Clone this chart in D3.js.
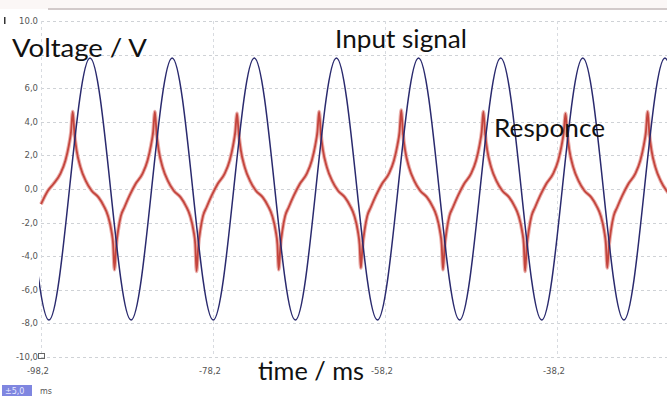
<!DOCTYPE html>
<html>
<head>
<meta charset="utf-8">
<script src="https://cdn.jsdelivr.net/npm/d3@7"></script>
<style>
  body { margin: 0; background: #fff; }
  svg { display: block; }
</style>
</head>
<body>
<div id="chart"></div>
<script>
// y grid / tick values (V)
const yTicks = [10, 8, 6, 4, 2, 0, -2, -4, -6, -8, -10];
const yLabels = {10: '10.0', 6: '6,0', 4: '4,0', 2: '2,0', 0: '0,0', '-2': '-2,0', '-4': '-4,0', '-6': '-6,0', '-8': '-8,0', '-10': '-10,0'};
// x ticks (ms)
const xTicks = [-98.2, -78.2, -58.2, -38.2];
const xLabels = ['-98,2', '-78,2', '-58,2', '-38,2'];

// input signal: extremes and zero crossings
const inputT = [-99.66, -97.28, -94.89, -92.50, -90.11, -87.73, -85.34, -82.95, -80.56, -78.18,
  -75.79, -73.40, -71.01, -68.63, -66.24, -63.85, -61.46, -59.08, -56.69, -54.30,
  -51.91, -49.53, -47.14, -44.75, -42.36, -39.98, -37.59, -35.20, -32.81, -30.43,
  -28.04, -25.65, -23.26];
const inputV = [0, -7.8, 0, 7.8, 0, -7.8, 0, 7.8, 0, -7.8,
  0, 7.8, 0, -7.8, 0, 7.8, 0, -7.8, 0, 7.8,
  0, -7.8, 0, 7.8, 0, -7.8, 0, 7.8, 0, -7.8,
  0, 7.8, 0];

// response trace
const respT = [
  -98.20, -97.40, -96.76, -95.96, -95.36, -94.96, -94.71,
  -94.51, -94.31, -94.06, -93.61, -93.01, -92.31, -91.51, -90.91, -90.41, -90.01, -89.81, -89.66,
  -89.46, -89.21, -88.91, -88.51, -87.91, -87.21, -86.41, -85.81, -85.41, -85.16,
  -84.96, -84.76, -84.51, -84.06, -83.46, -82.76, -81.96, -81.36, -80.86, -80.46, -80.26, -80.11,
  -79.91, -79.66, -79.36, -78.96, -78.36, -77.66, -76.86, -76.26, -75.86, -75.61,
  -75.41, -75.21, -74.96, -74.51, -73.91, -73.21, -72.41, -71.81, -71.31, -70.91, -70.71, -70.56,
  -70.36, -70.11, -69.81, -69.41, -68.81, -68.11, -67.31, -66.71, -66.31, -66.06,
  -65.86, -65.66, -65.41, -64.96, -64.36, -63.66, -62.86, -62.26, -61.76, -61.36, -61.16, -61.01,
  -60.81, -60.56, -60.26, -59.86, -59.26, -58.56, -57.76, -57.16, -56.76, -56.51,
  -56.31, -56.11, -55.86, -55.41, -54.81, -54.11, -53.31, -52.71, -52.21, -51.81, -51.61, -51.46,
  -51.26, -51.01, -50.71, -50.31, -49.71, -49.01, -48.21, -47.61, -47.21, -46.96,
  -46.76, -46.56, -46.31, -45.86, -45.26, -44.56, -43.76, -43.16, -42.66, -42.26, -42.06, -41.91,
  -41.71, -41.46, -41.16, -40.76, -40.16, -39.46, -38.66, -38.06, -37.66, -37.41,
  -37.21, -37.01, -36.76, -36.31, -35.71, -35.01, -34.21, -33.61, -33.11, -32.71, -32.51, -32.36,
  -32.16, -31.91, -31.61, -31.21, -30.61, -29.91, -29.11, -28.51, -28.11, -27.86,
  -27.66, -27.46, -27.21, -26.76, -26.16, -25.46, -24.66
];
const respV = [
  -0.9, -0.1, 0.3, 0.9, 1.7, 2.6, 3.4,
  4.6, 3.3, 2.3, 1.3, 0.5, -0.1, -0.5, -1.0, -1.6, -2.5, -3.3, -4.8,
  -3.4, -2.4, -1.6, -1.1, -0.4, 0.3, 0.9, 1.7, 2.6, 3.4,
  4.6, 3.3, 2.3, 1.3, 0.5, -0.1, -0.5, -1.0, -1.6, -2.5, -3.3, -4.9,
  -3.4, -2.4, -1.6, -1.1, -0.4, 0.3, 0.9, 1.7, 2.6, 3.4,
  4.5, 3.3, 2.3, 1.3, 0.5, -0.1, -0.5, -1.0, -1.6, -2.5, -3.3, -4.8,
  -3.4, -2.4, -1.6, -1.1, -0.4, 0.3, 0.9, 1.7, 2.6, 3.4,
  4.6, 3.3, 2.3, 1.3, 0.5, -0.1, -0.5, -1.0, -1.6, -2.5, -3.3, -4.7,
  -3.4, -2.4, -1.6, -1.1, -0.4, 0.3, 0.9, 1.7, 2.6, 3.4,
  4.7, 3.3, 2.3, 1.3, 0.5, -0.1, -0.5, -1.0, -1.6, -2.5, -3.3, -4.8,
  -3.4, -2.4, -1.6, -1.1, -0.4, 0.3, 0.9, 1.7, 2.6, 3.4,
  4.6, 3.3, 2.3, 1.3, 0.5, -0.1, -0.5, -1.0, -1.6, -2.5, -3.3, -4.9,
  -3.4, -2.4, -1.6, -1.1, -0.4, 0.3, 0.9, 1.7, 2.6, 3.4,
  4.5, 3.3, 2.3, 1.3, 0.5, -0.1, -0.5, -1.0, -1.6, -2.5, -3.3, -4.7,
  -3.4, -2.4, -1.6, -1.1, -0.4, 0.3, 0.9, 1.7, 2.6, 3.4,
  4.6, 3.3, 2.3, 1.3, 0.5, -0.1, -0.5
];

const width = 667, height = 396;
const plot = { left: 41, right: 667, top: 21, bottom: 357 };

const svg = d3.select('#chart').append('svg')
  .attr('width', width)
  .attr('height', height);

const x = d3.scaleLinear().domain([-98.2, -98.2 + (plot.right - plot.left) / 8.6]).range([plot.left, plot.right]);
const y = d3.scaleLinear().domain([-10, 10]).range([plot.bottom, plot.top]);

// top window strip
svg.append('rect').attr('x', 0).attr('y', 0).attr('width', width).attr('height', 9).attr('fill', '#fbf7f6');
svg.append('line').attr('x1', 48).attr('x2', width).attr('y1', 9).attr('y2', 9)
  .attr('stroke', '#d2caca').attr('stroke-width', 2);

// grid
svg.append('g').selectAll('line').data(yTicks).join('line')
  .attr('x1', plot.left).attr('x2', plot.right)
  .attr('y1', d => Math.round(y(d)) + 0.5).attr('y2', d => Math.round(y(d)) + 0.5)
  .attr('stroke', '#cfd2d6').attr('stroke-dasharray', '3,3');
svg.append('g').selectAll('line').data(xTicks).join('line')
  .attr('x1', d => Math.round(x(d)) + 0.5).attr('x2', d => Math.round(x(d)) + 0.5)
  .attr('y1', plot.top).attr('y2', plot.bottom)
  .attr('stroke', '#d8dbe0').attr('stroke-dasharray', '3,3');

// tick labels
svg.append('g').selectAll('text').data(yTicks.filter(d => d !== 8)).join('text')
  .attr('x', 38).attr('y', d => y(d) + 3)
  .attr('text-anchor', 'end')
  .attr('font-family', 'DejaVu Sans, sans-serif').attr('font-size', 8.5)
  .attr('fill', '#555')
  .text(d => yLabels[d]);
svg.append('rect').attr('x', 38.5).attr('y', 353.5).attr('width', 6).attr('height', 5)
  .attr('fill', 'none').attr('stroke', '#666');
svg.append('rect').attr('x', 4).attr('y', 17).attr('width', 1.5).attr('height', 7).attr('fill', '#333');

svg.append('g').selectAll('text').data(xTicks).join('text')
  .attr('x', d => x(d) - 3).attr('y', 374)
  .attr('text-anchor', 'middle')
  .attr('font-family', 'DejaVu Sans, sans-serif').attr('font-size', 8.5)
  .attr('fill', '#555')
  .text((d, i) => xLabels[i]);

// bottom-left scale box
svg.append('rect').attr('x', 2).attr('y', 385).attr('width', 30).attr('height', 11).attr('fill', '#7f86e0');
svg.append('text').attr('x', 5).attr('y', 394).attr('font-family', 'DejaVu Sans, sans-serif')
  .attr('font-size', 8).attr('fill', '#e8eaff').text('±5,0');
svg.append('text').attr('x', 40).attr('y', 394).attr('font-family', 'DejaVu Sans, sans-serif')
  .attr('font-size', 8).attr('fill', '#555').text('ms');

// traces
svg.append('clipPath').attr('id', 'clip').append('rect')
  .attr('x', plot.left - 2).attr('y', 0).attr('width', plot.right - plot.left + 2).attr('height', height);

const g = svg.append('g').attr('clip-path', 'url(#clip)');

const respData = respT.map((t, i) => [t, respV[i]]);
const inputData = inputT.map((t, i) => [t, inputV[i]]);

const respLine = d3.line().x(d => x(d[0])).y(d => y(d[1])).curve(d3.curveMonotoneX);
const inputLine = d3.line().x(d => x(d[0])).y(d => y(d[1])).curve(d3.curveNatural);

g.append('path').datum(respData).attr('d', respLine)
  .attr('fill', 'none').attr('stroke', '#eab0ad').attr('stroke-width', 3.8).attr('stroke-linejoin', 'round');
g.append('path').datum(respData).attr('d', respLine)
  .attr('fill', 'none').attr('stroke', '#c4453d').attr('stroke-width', 1.8).attr('stroke-linejoin', 'round');

g.append('path').datum(inputData).attr('d', inputLine)
  .attr('fill', 'none').attr('stroke', '#2a2a6e').attr('stroke-width', 1.5);

// annotations
const big = (txt, x0, y0, len) => svg.append('text')
  .attr('x', x0).attr('y', y0)
  .attr('font-family', 'Lato, "Open Sans", sans-serif').attr('font-size', 25)
  .attr('fill', '#111')
  .attr('textLength', len).attr('lengthAdjust', 'spacingAndGlyphs')
  .text(txt);

big('Voltage / V', 12, 57, 135);
big('Input signal', 335, 48, 132);
big('Responce', 494, 137, 111);
big('time / ms', 258, 380, 106);
</script>
</body>
</html>
